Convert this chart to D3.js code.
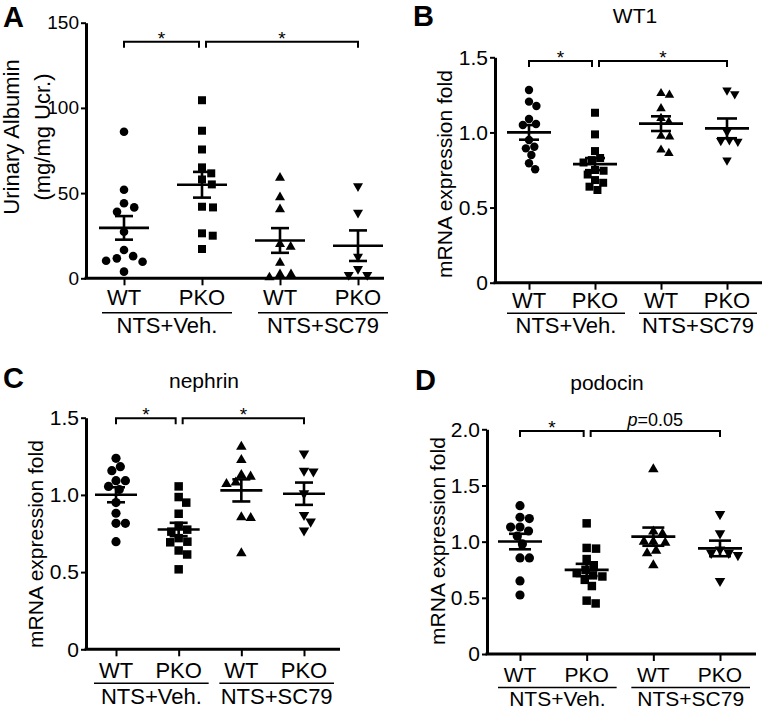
<!DOCTYPE html>
<html><head><meta charset="utf-8">
<script src="https://cdn.jsdelivr.net/npm/d3@7"></script>
<style>
body{margin:0;background:#fff}
svg{display:block}
text{font-family:"Liberation Sans",Arial,Helvetica,sans-serif;fill:#000}
</style>
</head><body>
<svg id="chart" width="763" height="710"></svg>
<script>
// ---------- data ----------
const categories = ["WT", "PKO", "WT", "PKO"];
const groupLabels = ["NTS+Veh.", "NTS+SC79"];
const markerShapes = ["circle", "square", "triangle", "invtriangle"];

const albuminWT = [86, 52, 44, 41.6, 39, 27.3, 16.6, 13, 11.7, 10.3, 9.7, 3.9];
const albuminPKO = [104.5, 86.6, 75.6, 65.1, 61.6, 58, 55.1, 42, 41.6, 26.4, 25, 17.2];
const albuminSC79WT = [59, 47.5, 40.5, 20.1, 18.5, 9.1, 2.3, 2.3, 0.5];
const albuminSC79PKO = [54.1, 38.5, 12.7, 5.5, 2, 2];

const wt1WT = [1.282, 1.205, 1.176, 1.089, 1.056, 1.049, 0.95, 0.905, 0.894, 0.85, 0.795, 0.755];
const wt1PKO = [1.131, 0.987, 0.876, 0.83, 0.816, 0.80, 0.75, 0.745, 0.72, 0.683, 0.665, 0.639, 0.617];
const wt1SC79WT = [1.26, 1.249, 1.16, 1.094, 1.07, 0.976, 0.972, 0.884, 0.861];
const wt1SC79PKO = [1.28, 1.255, 1.005, 0.95, 0.945, 0.94, 0.815];

const nephrinWT = [1.237, 1.183, 1.157, 1.092, 1.092, 1.055, 1.035, 0.95, 0.881, 0.816, 0.816, 0.697];
const nephrinPKO = [1.055, 0.986, 0.95, 0.878, 0.80, 0.775, 0.762, 0.72, 0.697, 0.693, 0.64, 0.614, 0.518];
const nephrinSC79WT = [1.312, 1.226, 1.129, 1.118, 1.08, 1.07, 0.855, 0.85, 0.622];
const nephrinSC79PKO = [1.268, 1.157, 1.152, 1.01, 0.87, 0.827, 0.77];

const podocinWT = [1.32, 1.217, 1.205, 1.13, 1.13, 1.095, 1.05, 0.98, 0.855, 0.855, 0.65, 0.525];
const podocinPKO = [1.163, 0.944, 0.938, 0.845, 0.79, 0.75, 0.72, 0.70, 0.69, 0.66, 0.605, 0.475, 0.45];
const podocinSC79WT = [1.644, 1.09, 1.07, 1.0, 1.0, 0.99, 0.92, 0.896, 0.79];
const podocinSC79PKO = [1.245, 1.074, 0.93, 0.9, 0.9, 0.88, 0.65];

const albuminTicks = [0, 50, 100, 150];
const foldTicks = [0, 0.5, 1.0, 1.5];
const podocinTicks = [0, 0.5, 1.0, 1.5, 2.0];

const panelLetters = ["A", "B", "C", "D"];
const panelTitles = ["", "WT1", "nephrin", "podocin"];
const yTitles = [["Urinary Albumin", "(mg/mg Ucr.)"], ["mRNA expression fold"], ["mRNA expression fold"], ["mRNA expression fold"]];
const sigLabels = [["*", "*"], ["*", "*"], ["*", "*"], ["*", "p=0.05"]];

// ---------- layout ----------
const panels = [
  {series:[albuminWT, albuminPKO, albuminSC79WT, albuminSC79PKO], ticks:albuminTicks, fmt:d3.format("d"), domain:[0,150],
   axX:86, xEnd:384, catRange:[124,358], yRange:[278.3,22.7], tickFont:19,
   letter:{x:3,y:27}, title:null, ylab:{xs:[19,50], cy:137, size:22},
   catOff:27, ulOff:34.4, grpOff:55, labFont:22, bracketY:41.7, meanHalf:25, capHalf:9,
   r:4.3, sq:8, tri:10, swarmD:11},
  {series:[wt1WT, wt1PKO, wt1SC79WT, wt1SC79PKO], ticks:foldTicks, fmt:d=>d===0?"0":d3.format(".1f")(d), domain:[0,1.5],
   axX:495, xEnd:762, catRange:[529,727], yRange:[282.7,57.3], tickFont:21,
   letter:{x:413,y:26}, title:{x:635,y:23}, ylab:{xs:[452], cy:174, size:21},
   catOff:25.3, ulOff:30.6, grpOff:50.3, labFont:22, bracketY:61, meanHalf:22, capHalf:10,
   r:4.2, sq:8, tri:9.5, swarmD:8.6},
  {series:[nephrinWT, nephrinPKO, nephrinSC79WT, nephrinSC79PKO], ticks:foldTicks, fmt:d=>d===0?"0":d3.format(".1f")(d), domain:[0,1.5],
   axX:86, xEnd:340, catRange:[116,304], yRange:[649.3,417.7], tickFont:21,
   letter:{x:3,y:388}, title:{x:204,y:388}, ylab:{xs:[43], cy:544, size:21},
   catOff:29, ulOff:34, grpOff:55, labFont:22, bracketY:418.3, meanHalf:21, capHalf:9,
   r:4.6, sq:8.5, tri:10.5, swarmD:9.4},
  {series:[podocinWT, podocinPKO, podocinSC79WT, podocinSC79PKO], ticks:podocinTicks, fmt:d=>d===0?"0":d3.format(".1f")(d), domain:[0,2],
   axX:487, xEnd:756, catRange:[520,720], yRange:[654,429.3], tickFont:21,
   letter:{x:415,y:390}, title:{x:607,y:390}, ylab:{xs:[445], cy:541, size:21},
   catOff:28, ulOff:33.5, grpOff:51.5, labFont:21, bracketY:431, meanHalf:22, capHalf:11,
   r:4.6, sq:8.5, tri:10.5, swarmD:9.4}
];

const svg = d3.select("#chart");

function swarm(vals, y, cx, d) {
  const pts = vals.map(v => ({v, y: y(v)}));
  const order = pts.slice().sort((a, b) => b.v - a.v);
  const placed = [];
  for (const p of order) {
    const forb = [];
    for (const q of placed) {
      const dy = Math.abs(q.y - p.y);
      if (dy < d) { const w = Math.sqrt(d * d - dy * dy); forb.push([q.off - w, q.off + w]); }
    }
    const cands = [0];
    forb.forEach(f => cands.push(f[0], f[1]));
    cands.sort((a, b) => Math.abs(a) - Math.abs(b) || b - a);
    let off = 0;
    for (const c of cands) {
      if (forb.every(f => c <= f[0] + 1e-6 || c >= f[1] - 1e-6)) { off = c; break; }
    }
    p.off = off; placed.push(p);
  }
  pts.forEach(p => p.x = cx + p.off);
  return pts;
}

function symbolFor(shape, P) {
  if (shape === "circle") return d3.symbol().type(d3.symbolCircle).size(Math.PI * P.r * P.r)();
  if (shape === "square") return d3.symbol().type(d3.symbolSquare).size(P.sq * P.sq)();
  const yy = P.tri / (2 * Math.sqrt(3));
  return d3.symbol().type(d3.symbolTriangle).size(3 * Math.sqrt(3) * yy * yy)();
}

panels.forEach((P, pi) => {
  const g = svg.append("g");
  const x = d3.scalePoint().domain(d3.range(4)).range(P.catRange);
  const y = d3.scaleLinear().domain(P.domain).range(P.yRange);

  g.append("text").attr("x", P.letter.x).attr("y", P.letter.y)
    .attr("font-size", 29).attr("font-weight", "bold").text(panelLetters[pi]);
  if (P.title) {
    g.append("text").attr("x", P.title.x).attr("y", P.title.y).attr("text-anchor", "middle")
      .attr("font-size", 21).text(panelTitles[pi]);
  }
  yTitles[pi].forEach((t, i) => {
    g.append("text").attr("transform", `translate(${P.ylab.xs[i]},${P.ylab.cy}) rotate(-90)`)
      .attr("text-anchor", "middle").attr("font-size", P.ylab.size).text(t);
  });

  const ya = g.append("g").attr("transform", `translate(${P.axX},0)`)
    .call(d3.axisLeft(y).tickValues(P.ticks).tickFormat(P.fmt).tickSize(5).tickSizeOuter(0).tickPadding(2));
  ya.select(".domain").attr("stroke", "#000").attr("stroke-width", 3);
  ya.selectAll(".tick line").attr("stroke", "#000").attr("stroke-width", 2);
  ya.selectAll(".tick text").attr("font-size", P.tickFont).attr("font-family", "Liberation Sans, Arial, sans-serif").attr("fill", "#000");

  g.append("line").attr("x1", P.axX - 1.5).attr("x2", P.xEnd).attr("y1", y(0)).attr("y2", y(0))
    .attr("stroke", "#000").attr("stroke-width", 3);
  const xa = g.append("g").attr("transform", `translate(0,${y(0)})`)
    .call(d3.axisBottom(x).tickSize(7).tickFormat(""));
  xa.select(".domain").remove();
  xa.selectAll(".tick line").attr("stroke", "#000").attr("stroke-width", 2);

  categories.forEach((c, i) => {
    g.append("text").attr("x", x(i)).attr("y", y(0) + P.catOff).attr("text-anchor", "middle")
      .attr("font-size", P.labFont).text(c);
  });
  [[0, 1], [2, 3]].forEach((pair, gi) => {
    const x1 = x(pair[0]) - 22, x2 = Math.min(x(pair[1]) + 30, 762);
    g.append("line").attr("x1", x1).attr("x2", x2).attr("y1", y(0) + P.ulOff).attr("y2", y(0) + P.ulOff)
      .attr("stroke", "#000").attr("stroke-width", 1.5);
    g.append("text").attr("x", (x(pair[0]) - 22 + x(pair[1]) + 30) / 2).attr("y", y(0) + P.grpOff)
      .attr("text-anchor", "middle").attr("font-size", P.labFont).text(groupLabels[gi]);
  });

  const br = [[x(0), x(1) - 3], [x(1) + 4, x(3)]];
  br.forEach((b, bi) => {
    const by = P.bracketY;
    g.append("path").attr("d", `M${b[0]},${by + 6}V${by}H${b[1]}V${by + 6}`)
      .attr("fill", "none").attr("stroke", "#000").attr("stroke-width", 2);
    const lab = sigLabels[pi][bi];
    const t = g.append("text").attr("x", (b[0] + b[1]) / 2).attr("text-anchor", "middle");
    if (lab === "*") {
      t.attr("y", by + 3).attr("font-size", 19).text("*");
    } else {
      t.attr("y", by - 5).attr("font-size", 18);
      t.append("tspan").attr("font-style", "italic").text(lab.slice(0, 1));
      t.append("tspan").text(lab.slice(1));
    }
  });

  P.series.forEach((vals, si) => {
    const cx = x(si);
    const pts = swarm(vals, y, cx, P.swarmD);
    const shape = markerShapes[si];
    const path = symbolFor(shape, P);
    g.append("g").selectAll("path").data(pts).join("path")
      .attr("d", path)
      .attr("transform", d => `translate(${d.x},${d.y})` + (shape === "invtriangle" ? " rotate(180)" : ""))
      .attr("fill", "#000");
    const m = d3.mean(vals);
    const sem = d3.deviation(vals) / Math.sqrt(vals.length);
    const eb = g.append("g").attr("stroke", "#000").attr("stroke-width", 2.6).attr("fill", "none");
    eb.append("line").attr("x1", cx - P.meanHalf).attr("x2", cx + P.meanHalf).attr("y1", y(m)).attr("y2", y(m));
    eb.append("line").attr("x1", cx).attr("x2", cx).attr("y1", y(m - sem)).attr("y2", y(m + sem));
    eb.append("line").attr("x1", cx - P.capHalf).attr("x2", cx + P.capHalf).attr("y1", y(m + sem)).attr("y2", y(m + sem));
    eb.append("line").attr("x1", cx - P.capHalf).attr("x2", cx + P.capHalf).attr("y1", y(m - sem)).attr("y2", y(m - sem));
  });
});
</script>
</body></html>
